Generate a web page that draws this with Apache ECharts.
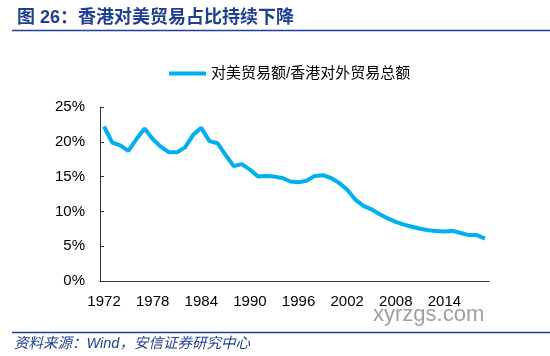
<!DOCTYPE html>
<html><head><meta charset="utf-8">
<script src="https://cdn.jsdelivr.net/npm/echarts@6/dist/echarts.min.js"></script>
<style>html,body{margin:0;padding:0;background:#fff}#c{width:550px;height:356px}</style>
</head><body><div id="c"></div>
<script>
const years = [];
for (let y = 1972; y <= 2019; y++) years.push(String(y));
const shareUS = [22.2,19.9,19.5,18.7,20.4,21.9,20.4,19.3,18.5,18.5,19.2,21.0,22.0,20.1,19.8,18.1,16.5,16.8,16.0,15.0,15.1,15.0,14.8,14.3,14.2,14.4,15.1,15.2,14.8,14.1,13.1,11.7,10.8,10.3,9.6,9.0,8.5,8.1,7.8,7.5,7.3,7.2,7.1,7.2,6.9,6.6,6.6,6.1];
const seriesName = '对美贸易额/香港对外贸易总额';
const titleText = '图 26：香港对美贸易占比持续下降';
const sourceText = '资料来源：Wind，安信证券研究中心';

const FONT = "'Liberation Sans', 'Noto Sans CJK SC', sans-serif";
const chart = echarts.init(document.getElementById('c'), null, {renderer: 'canvas'});
chart.setOption({
  animation: false,
  backgroundColor: '#fff',
  title: {
    text: titleText, left: 12, top: 4,
    textStyle: {fontSize: 18, fontWeight: 'bold', color: '#1f3f8f', fontFamily: FONT}
  },
  graphic: [
    {type: 'line', shape: {x1: 12, y1: 30.5, x2: 550, y2: 30.5}, style: {stroke: '#1f3f99', lineWidth: 1.5}},
    {type: 'line', shape: {x1: 12, y1: 332.5, x2: 550, y2: 332.5}, style: {stroke: '#1f3f99', lineWidth: 1.5}},
    {type: 'text', left: 14, top: 337, style: {text: sourceText, fill: '#1f3f8f', font: "italic 14.5px 'Liberation Sans', 'Noto Sans CJK SC', sans-serif"}},
    {type: 'text', left: 373, top: 304, style: {text: 'xyrzgs.com', fill: '#a0a0a0', font: "22px 'Liberation Sans', sans-serif"}}
  ],
  legend: {
    left: 164, top: 61, icon: 'rect', itemWidth: 37, itemHeight: 4, itemGap: 5,
    textStyle: {fontSize: 15, color: '#000', fontFamily: FONT, padding: [0,0,0,0]},
    data: [seriesName]
  },
  grid: {left: 100, right: 61, top: 107, bottom: 75, containLabel: false},
  xAxis: {
    type: 'category', data: years, boundaryGap: true,
    axisLine: {lineStyle: {color: '#333', width: 1}},
    axisTick: {inside: true, length: 4, interval: 5, lineStyle: {color: '#333'}},
    axisLabel: {interval: 5, fontSize: 15, color: '#000', fontFamily: FONT, margin: 13}
  },
  yAxis: {
    type: 'value', min: 0, max: 25, interval: 5,
    splitLine: {show: false},
    axisLine: {show: true, lineStyle: {color: '#333', width: 1}},
    axisTick: {show: true, inside: true, length: 4, lineStyle: {color: '#333'}},
    axisLabel: {formatter: '{value}%', fontSize: 15, color: '#000', fontFamily: FONT, margin: 15}
  },
  series: [{
    name: seriesName, type: 'line', data: shareUS, showSymbol: false, symbol: 'none',
    lineStyle: {color: '#00b0f0', width: 4}, itemStyle: {color: '#00b0f0'}
  }]
});
</script></body></html>
